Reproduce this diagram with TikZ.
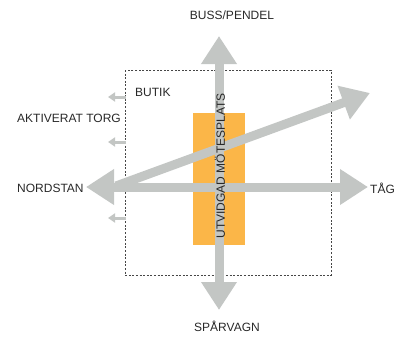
\documentclass[tikz,border=0pt]{standalone}
\usepackage{fontspec}
\setmainfont{Liberation Sans}
\usetikzlibrary{arrows.meta}
\definecolor{flowgray}{RGB}{195, 198, 196}
\definecolor{textgray}{RGB}{40, 40, 40}
\definecolor{meetorange}{RGB}{251, 182, 72}
\definecolor{boxgray}{RGB}{70, 70, 70}

\tikzset{
  bigflow/.style={draw=flowgray, line width=9pt, -{Triangle[width=34pt,length=28pt]}},
  smallflow/.style={draw=flowgray, line width=3pt, -{Triangle[width=9pt,length=7pt]}},
  place/.style={text=textgray, font=\fontsize{12}{14}\selectfont, inner sep=0pt},
}

\begin{document}
\begin{tikzpicture}[x=1pt, y=-1pt]
\useasboundingbox (0,0) rectangle (400,338);
% area and meeting place
\draw[boxgray, line width=0.8pt, dash pattern=on 2pt off 1.6pt] (125,70) rectangle (331,275);
\fill[meetorange] (193,113) rectangle (245,245);
% flows
\coordinate (top) at (219,36);
\coordinate (bottom) at (219,310);
\coordinate (west) at (86,187);
\coordinate (east) at (368,187);
\coordinate (diagstart) at (116,186);
\coordinate (diagend) at (370,93);
\draw[bigflow, {Triangle[width=34pt,length=28pt]}-{Triangle[width=34pt,length=28pt]}] (top) -- (bottom);
\draw[bigflow, {Triangle[width=34pt,length=28pt]}-{Triangle[width=34pt,length=28pt]}] (west) -- (east);
\draw[bigflow] (diagstart) -- (diagend);
% small flows out of the box
\foreach \y [count=\i] in {97,142,218} {
  \coordinate (out\i) at (126,\y);
  \coordinate (tip\i) at (108,\y);
  \draw[smallflow] (out\i) -- (tip\i);
}
% labels
\node[place] (buss) at (232,15) {BUSS/PENDEL};
\node[place, anchor=west] (butik) at (135,92) {BUTIK};
\node[place, anchor=west] (torg) at (17,118) {AKTIVERAT TORG};
\node[place, anchor=west] (nordstan) at (17,188) {NORDSTAN};
\node[place, anchor=west] (tag) at (370,188) {TÅG};
\node[place] (sparvagn) at (227,326) {SPÅRVAGN};
\node[place, rotate=90] (motesplats) at (220,166) {UTVIDGAD MÖTESPLATS};
\end{tikzpicture}
\end{document}
